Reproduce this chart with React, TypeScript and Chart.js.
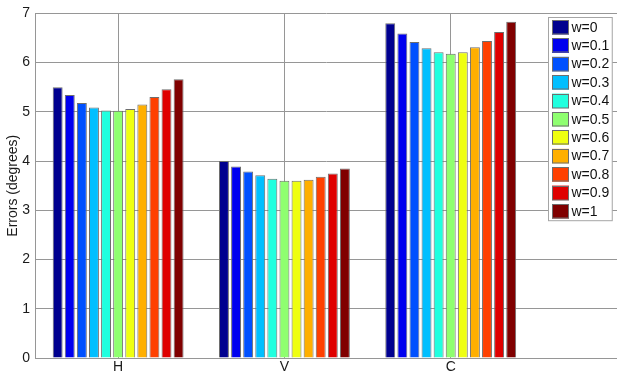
import React, { useEffect, useRef } from 'react';
import { Chart, registerables } from 'chart.js';

Chart.register(...registerables);

const categories = ['H', 'V', 'C'];
const seriesLabels = ['w=0', 'w=0.1', 'w=0.2', 'w=0.3', 'w=0.4', 'w=0.5', 'w=0.6', 'w=0.7', 'w=0.8', 'w=0.9', 'w=1'];
const seriesColors = [
  'rgb(0,0,143)',
  'rgb(0,0,239)',
  'rgb(0,80,255)',
  'rgb(0,191,255)',
  'rgb(32,255,223)',
  'rgb(143,255,112)',
  'rgb(239,255,16)',
  'rgb(255,175,0)',
  'rgb(255,64,0)',
  'rgb(223,0,0)',
  'rgb(128,0,0)',
];
const errorsH = [5.5, 5.34, 5.18, 5.09, 5.03, 5.02, 5.06, 5.15, 5.3, 5.46, 5.66];
const errorsV = [4.0, 3.89, 3.79, 3.71, 3.64, 3.6, 3.6, 3.62, 3.68, 3.75, 3.85];
const errorsC = [6.8, 6.59, 6.42, 6.29, 6.21, 6.18, 6.21, 6.31, 6.44, 6.62, 6.83];
const yMin = 0;
const yMax = 7;
const yStep = 1;
const yTitle = 'Errors (degrees)';

const FONT = '"Liberation Sans", Arial, Helvetica, sans-serif';
const GRID = 'rgb(150,150,150)';

const boxLegend = {
  id: 'boxLegend',
  afterDatasetsDraw(chart: any) {
    const ctx = chart.ctx;
    const area = chart.chartArea;
    const sets = chart.data.datasets;
    ctx.save();
    ctx.font = '14px ' + FONT;
    const textW = Math.max(...sets.map((d: any) => ctx.measureText(d.label).width));
    const pitch = 18.4;
    const sw = 17;
    const sh = 14.5;
    const padL = 3.5;
    const gap = 2.5;
    const padR = 3;
    const boxW = padL + sw + gap + textW + padR;
    const boxH = sets.length * pitch + 0.8;
    const bx = Math.round(area.right - 5.5 - boxW) + 0.5;
    const by = Math.round(area.top + 4) + 0.5;
    ctx.fillStyle = '#ffffff';
    ctx.fillRect(bx, by, boxW, boxH);
    ctx.strokeStyle = 'rgb(165,165,165)';
    ctx.lineWidth = 1;
    ctx.strokeRect(bx, by, boxW, boxH);
    sets.forEach((d: any, i: number) => {
      const sx = bx + padL;
      const sy = by + 2.5 + i * pitch;
      ctx.fillStyle = d.backgroundColor;
      ctx.fillRect(sx, sy, sw, sh);
      ctx.strokeStyle = 'rgb(110,110,110)';
      ctx.strokeRect(Math.round(sx) + 0.5, Math.round(sy) + 0.5, sw - 1, sh - 1);
      ctx.fillStyle = '#111';
      ctx.textBaseline = 'middle';
      ctx.textAlign = 'left';
      ctx.fillText(d.label, sx + sw + gap, sy + sh / 2 + 0.5);
    });
    ctx.restore();
  },
};

export default function App() {
  const canvasRef = useRef<HTMLCanvasElement | null>(null);

  useEffect(() => {
    const canvas = canvasRef.current;
    if (!canvas) return;
    const datasets = seriesLabels.map((label, s) => ({
      label,
      data: [errorsH[s], errorsV[s], errorsC[s]].map((y, i) => ({ x: i + 1, y })),
      backgroundColor: seriesColors[s],
      borderColor: 'rgb(110,110,110)',
      borderWidth: 1,
      categoryPercentage: 0.8,
      barPercentage: 0.82,
    }));
    const chart = new Chart(canvas, {
      type: 'bar',
      data: { datasets },
      plugins: [boxLegend],
      options: {
        animation: false,
        responsive: true,
        maintainAspectRatio: false,
        layout: { padding: { top: 11, right: 0, left: 0, bottom: 0 } },
        plugins: {
          legend: { display: false },
          tooltip: { enabled: false },
        },
        scales: {
          x: {
            type: 'linear',
            min: 0.5,
            max: categories.length + 1,
            offset: false,
            grid: { offset: false, color: GRID, drawTicks: false, lineWidth: 1 },
            border: { color: GRID },
            afterBuildTicks: (scale: any) => {
              scale.ticks = categories.map((_, i) => ({ value: i + 1 }));
            },
            afterFit: (scale: any) => {
              scale.height = 16;
            },
            ticks: {
              padding: 1,
              color: '#1a1a1a',
              font: { size: 14, family: FONT },
              maxRotation: 0,
              autoSkip: false,
              callback: (v: any) => categories[Number(v) - 1] ?? '',
            },
          },
          y: {
            min: yMin,
            max: yMax,
            grid: { color: GRID, drawTicks: false },
            border: { color: GRID },
            afterFit: (scale: any) => {
              scale.width = 35;
            },
            ticks: {
              stepSize: yStep,
              padding: 5,
              color: '#1a1a1a',
              font: { size: 14, family: FONT },
            },
            title: {
              display: true,
              text: yTitle,
              color: '#1a1a1a',
              font: { size: 14, family: FONT },
              padding: { top: 4.5, bottom: 0 },
            },
          },
        },
      } as any,
    });
    return () => chart.destroy();
  }, []);

  return (
    <div style={{ position: 'absolute', left: 0, top: 0, width: 617, height: 374 }}>
      <canvas ref={canvasRef} />
    </div>
  );
}
